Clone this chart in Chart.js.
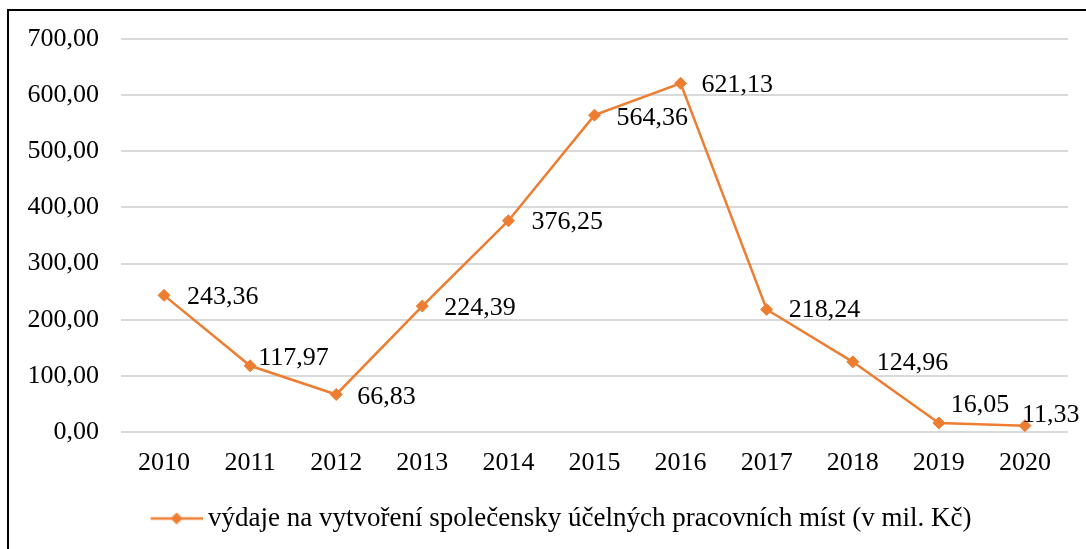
<!DOCTYPE html>
<html>
<head>
<meta charset="utf-8">
<script src="https://cdn.jsdelivr.net/npm/chart.js@4/dist/chart.umd.min.js"></script>
<style>
  html, body { margin: 0; padding: 0; background: #ffffff; }
  #wrap { position: relative; width: 1086px; height: 549px; }
</style>
</head>
<body>
<div id="wrap"><canvas id="c" width="1086" height="549"></canvas></div>
<script>
// ---- data ----
const categories = ['2010','2011','2012','2013','2014','2015','2016','2017','2018','2019','2020'];
const expenditure = [243.36, 117.97, 66.83, 224.39, 376.25, 564.36, 621.13, 218.24, 124.96, 16.05, 11.33];
const seriesLabel = 'výdaje na vytvoření společensky účelných pracovních míst (v mil. Kč)';
const yTicks = [0, 100, 200, 300, 400, 500, 600, 700];

// label placement tweaks (pixels, relative to point)
const labelOffsets = [[23,2],[8,-8],[21,3],[22,2],[23,1],[22,3],[21,2],[22,1],[24,1],[12,-18],[-3,-10]];

const ORANGE = '#ED7D31';
const FONT = '"Liberation Serif", "Times New Roman", serif';
const fmt = v => Number(v).toFixed(2).replace('.', ',');

// legend symbol: line + diamond
const sym = document.createElement('canvas');
sym.width = 56; sym.height = 14;
(function(){
  const g = sym.getContext('2d');
  g.strokeStyle = ORANGE; g.lineWidth = 2.5;
  g.beginPath(); g.moveTo(4, 7); g.lineTo(56, 7); g.stroke();
  g.fillStyle = ORANGE;
  g.beginPath(); g.moveTo(30, 1); g.lineTo(36, 7); g.lineTo(30, 13); g.lineTo(24, 7); g.closePath(); g.fill();
})();

const borderPlugin = {
  id: 'border',
  beforeDraw(chart) {
    const ctx = chart.ctx;
    ctx.save();
    ctx.strokeStyle = '#000';
    ctx.lineWidth = 2;
    ctx.beginPath();
    ctx.moveTo(8, 560); ctx.lineTo(8, 10); ctx.lineTo(1100, 10);
    ctx.stroke();
    ctx.restore();
  },
  afterLayout(chart) {
    const l = chart.legend;
    if (l) { l.left += 29; l.right += 29; }
  }
};

const labelPlugin = {
  id: 'valueLabels',
  afterDatasetsDraw(chart) {
    const ctx = chart.ctx;
    const meta = chart.getDatasetMeta(0);
    ctx.save();
    ctx.font = '26px ' + FONT;
    ctx.fillStyle = '#000';
    ctx.textAlign = 'left';
    ctx.textBaseline = 'middle';
    meta.data.forEach((pt, i) => {
      const off = labelOffsets[i] || [22, 2];
      ctx.fillText(fmt(chart.data.datasets[0].data[i]), pt.x + off[0], pt.y + off[1]);
    });
    ctx.restore();
  }
};

new Chart(document.getElementById('c'), {
  type: 'line',
  data: {
    labels: categories,
    datasets: [{
      label: seriesLabel,
      data: expenditure,
      borderColor: ORANGE,
      backgroundColor: ORANGE,
      borderWidth: 2.5,
      pointStyle: 'rectRot',
      pointRadius: 6,
      pointBorderWidth: 1,
      pointBackgroundColor: ORANGE,
      pointBorderColor: ORANGE,
      tension: 0,
      fill: false
    }]
  },
  options: {
    responsive: false,
    animation: false,
    devicePixelRatio: 1,
    layout: { padding: { left: 0, right: 18, top: 39, bottom: 7 } },
    scales: {
      x: {
        offset: true,
        grid: { display: false, drawTicks: false },
        border: { display: false },
        ticks: { color: '#000', font: { family: FONT, size: 26 }, padding: 16, maxRotation: 0 },
        afterFit(s) { s.height = 57; }
      },
      y: {
        min: 0, max: 700,
        afterBuildTicks(s) { s.ticks = yTicks.map(v => ({ value: v })); },
        grid: { color: '#d9d9d9', lineWidth: 2, drawTicks: false },
        border: { display: false },
        ticks: { color: '#000', font: { family: FONT, size: 26 }, padding: 22, callback: v => fmt(v) },
        afterFit(s) { s.width = 121; }
      }
    },
    plugins: {
      legend: {
        position: 'bottom',
        labels: {
          color: '#000',
          font: { family: FONT, size: 27 },
          usePointStyle: true,
          pointStyleWidth: 40,
          padding: 16,
          generateLabels(chart) {
            return [{ text: seriesLabel, pointStyle: sym, fillStyle: ORANGE, strokeStyle: ORANGE, lineWidth: 0, datasetIndex: 0, fontColor: '#000' }];
          }
        }
      },
      tooltip: { enabled: false }
    }
  },
  plugins: [borderPlugin, labelPlugin]
});
</script>
</body>
</html>
